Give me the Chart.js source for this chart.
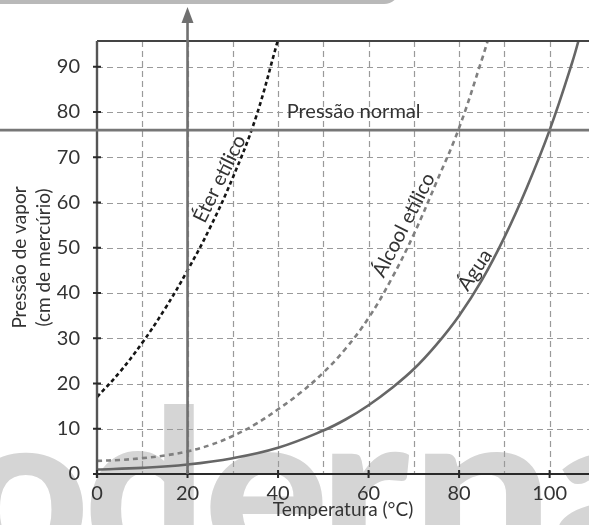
<!DOCTYPE html>
<html>
<head>
<meta charset="utf-8">
<script src="https://cdn.jsdelivr.net/npm/chart.js@4"></script>
<style>
  html, body { margin: 0; padding: 0; background: #fff; }
  canvas { display: block; }
</style>
</head>
<body>
<canvas id="grafico" width="589" height="525"></canvas>
<script>
// Pressão de vapor (cm de mercúrio) em função da temperatura (°C)
const eterTemp      = [0, 5, 10, 15, 20, 25, 30, 35, 40];
const eterPressao   = [17, 22.5, 29, 36.5, 45, 54.5, 65.5, 78.5, 96];

const alcoolTemp    = [0, 5, 10, 15, 20, 25, 30, 35, 40, 45, 50, 55, 60, 65, 70, 75, 80, 85, 87];
const alcoolPressao = [2.9, 3.1, 3.5, 4.1, 5.0, 6.4, 8.4, 11.0, 14.3, 18.0, 22.4, 27.8, 34.5, 43, 53, 64.5, 76.5, 91.5, 98];

const aguaTemp      = [0, 10, 20, 30, 40, 50, 55, 60, 65, 70, 75, 80, 85, 90, 95, 100, 105, 107];
const aguaPressao   = [1, 1.35, 2.1, 3.5, 5.8, 9.6, 12.1, 15.2, 18.9, 23.2, 28.6, 35, 42.8, 52.3, 63.4, 76, 91, 98];

const pressaoNormal = 76;      // cmHg
const temperaturaMarcada = 20; // °C

const xTicks = [0, 20, 40, 60, 80, 100];
const yTicks = [0, 10, 20, 30, 40, 50, 60, 70, 80, 90];
const xGrid  = [10, 20, 30, 40, 50, 60, 70, 80, 90, 100];
const yGrid  = [10, 20, 30, 40, 50, 60, 70, 80, 90];

// rótulos sobre as curvas: [texto, temperatura, pressão, ângulo em graus]
const rotulosCurvas = [
  ['Éter etílico', 27.1, 65.2, -64],
  ['Álcool etílico', 67.8, 55, -63],
  ['Água', 83.5, 45.1, -56]
];

const FONTE = 'Lato';
const TEXTO = '#333333';

function pontos(xs, ys) {
  return xs.map((x, i) => ({ x: x, y: ys[i] }));
}

// fundo, faixa superior e marca d'água
const fundo = {
  id: 'fundo',
  beforeDraw(chart) {
    const ctx = chart.ctx;
    ctx.save();
    ctx.fillStyle = '#ffffff';
    ctx.fillRect(0, 0, chart.width, chart.height);

    ctx.fillStyle = '#b9b9b9';
    ctx.beginPath();
    ctx.roundRect(-30, -40, 430, 44, 16);
    ctx.fill();

    ctx.fillStyle = '#d5d5d5';
    ctx.font = `900 100px ${FONTE}`;
    const xh = ctx.measureText('x').actualBoundingBoxAscent / 100;
    const asc = ctx.measureText('d').actualBoundingBoxAscent / 100;
    const tam = (453 - 406) / (asc - xh);
    const base = 453 + xh * tam;
    ctx.font = `900 ${tam}px ${FONTE}`;
    ctx.textAlign = 'left';
    ctx.textBaseline = 'alphabetic';
    const letras = [['o', -32, 83], ['d', 90, 194], ['e', 210, 323], ['r', 332, 410], ['n', 425, 541], ['a', 556, 662]];
    for (const [ch, esq, dir] of letras) {
      const m = ctx.measureText(ch);
      const w = m.actualBoundingBoxLeft + m.actualBoundingBoxRight;
      ctx.save();
      ctx.translate(esq, base);
      ctx.scale((dir - esq) / w, 1);
      ctx.fillText(ch, m.actualBoundingBoxLeft, 0);
      ctx.restore();
    }
    ctx.restore();
  }
};

// grade tracejada
const grade = {
  id: 'grade',
  beforeDatasetsDraw(chart) {
    const { ctx, chartArea: a, scales: { x, y } } = chart;
    ctx.save();
    ctx.strokeStyle = '#9a9a9a';
    ctx.lineWidth = 1.2;
    ctx.setLineDash([6, 4]);
    ctx.beginPath();
    for (const v of xGrid) {
      const px = Math.round(x.getPixelForValue(v)) + 0.5;
      ctx.moveTo(px, a.top);
      ctx.lineTo(px, a.bottom);
    }
    for (const v of yGrid) {
      const py = Math.round(y.getPixelForValue(v)) + 0.5;
      ctx.moveTo(a.left, py);
      ctx.lineTo(a.right, py);
    }
    ctx.stroke();
    ctx.restore();
  }
};

// eixos, linha de pressão normal, seta e rótulos
const anotacoes = {
  id: 'anotacoes',
  afterDatasetsDraw(chart) {
    const { ctx, chartArea: a, scales: { x, y } } = chart;
    ctx.save();
    ctx.setLineDash([]);

    // moldura
    ctx.strokeStyle = '#444';
    ctx.lineWidth = 2;
    ctx.beginPath();
    ctx.moveTo(a.left, a.top);
    ctx.lineTo(a.right, a.top);
    ctx.stroke();

    ctx.strokeStyle = '#555';
    ctx.lineWidth = 2.4;
    ctx.beginPath();
    ctx.moveTo(a.left, a.top);
    ctx.lineTo(a.left, a.bottom + 4);
    ctx.stroke();

    ctx.strokeStyle = '#2a2a2a';
    ctx.lineWidth = 2;
    ctx.beginPath();
    ctx.moveTo(a.left - 4, a.bottom);
    ctx.lineTo(a.right, a.bottom);
    ctx.stroke();

    // marcas dos eixos
    ctx.strokeStyle = '#2a2a2a';
    ctx.lineWidth = 2;
    ctx.beginPath();
    for (const v of xTicks) {
      const px = x.getPixelForValue(v);
      ctx.moveTo(px, a.bottom - 4);
      ctx.lineTo(px, a.bottom + 4);
    }
    for (const v of yTicks) {
      const py = y.getPixelForValue(v);
      ctx.moveTo(a.left - 4, py);
      ctx.lineTo(a.left + 4, py);
    }
    ctx.stroke();

    // pressão normal
    const py = y.getPixelForValue(pressaoNormal);
    ctx.strokeStyle = '#777';
    ctx.lineWidth = 2.6;
    ctx.beginPath();
    ctx.moveTo(0, py);
    ctx.lineTo(chart.width, py);
    ctx.stroke();

    ctx.fillStyle = TEXTO;
    ctx.font = `20px ${FONTE}`;
    ctx.textAlign = 'left';
    ctx.textBaseline = 'middle';
    ctx.fillText('Pressão normal', x.getPixelForValue(41.9), py - 19);

    // seta em 20 °C
    const px = x.getPixelForValue(temperaturaMarcada);
    ctx.strokeStyle = '#707070';
    ctx.fillStyle = '#707070';
    ctx.lineWidth = 2.6;
    ctx.beginPath();
    ctx.moveTo(px, y.getPixelForValue(0));
    ctx.lineTo(px, 20);
    ctx.stroke();
    ctx.beginPath();
    ctx.moveTo(px, 7);
    ctx.lineTo(px - 6, 23);
    ctx.lineTo(px + 6, 23);
    ctx.closePath();
    ctx.fill();

    // nomes das substâncias
    ctx.fillStyle = TEXTO;
    ctx.textAlign = 'center';
    for (const [txt, tx, ty, ang] of rotulosCurvas) {
      ctx.save();
      ctx.translate(x.getPixelForValue(tx), y.getPixelForValue(ty));
      ctx.rotate(ang * Math.PI / 180);
      ctx.fillText(txt, 0, 0);
      ctx.restore();
    }
    ctx.restore();
  }
};

new Chart(document.getElementById('grafico'), {
  type: 'line',
  data: {
    datasets: [
      {
        label: 'Éter etílico',
        data: pontos(eterTemp, eterPressao),
        borderColor: '#151515',
        borderWidth: 2.6,
        borderDash: [4, 3]
      },
      {
        label: 'Álcool etílico',
        data: pontos(alcoolTemp, alcoolPressao),
        borderColor: '#808080',
        borderWidth: 2.6,
        borderDash: [5, 4]
      },
      {
        label: 'Água',
        data: pontos(aguaTemp, aguaPressao),
        borderColor: '#666666',
        borderWidth: 2.6
      }
    ]
  },
  options: {
    responsive: false,
    animation: false,
    devicePixelRatio: 1,
    layout: { padding: { top: 41, left: 0, right: 0, bottom: 0 } },
    plugins: {
      legend: { display: false },
      tooltip: { enabled: false }
    },
    elements: {
      point: { radius: 0, hoverRadius: 0 },
      line: { cubicInterpolationMode: 'default', tension: 0.4, fill: false, borderCapStyle: 'butt' }
    },
    scales: {
      x: {
        type: 'linear',
        min: 0,
        max: 108.7,
        grid: { display: false },
        border: { display: false },
        ticks: {
          stepSize: 20,
          includeBounds: false,
          autoSkip: false,
          maxRotation: 0,
          padding: 0,
          color: TEXTO,
          font: { family: FONTE, size: 20 }
        },
        title: {
          display: true,
          text: 'Temperatura (°C)',
          color: TEXTO,
          font: { family: FONTE, size: 19, lineHeight: 1 },
          padding: { top: 0, bottom: 6 }
        },
        afterFit(s) { s.height = 51; s.paddingLeft = 0; s.paddingRight = 0; }
      },
      y: {
        min: 0,
        max: 95.7,
        grid: { display: false },
        border: { display: false },
        ticks: {
          stepSize: 10,
          includeBounds: false,
          padding: 9,
          color: TEXTO,
          font: { family: FONTE, size: 20 }
        },
        title: {
          display: true,
          text: ['Pressão de vapor', '(cm de mercúrio)'],
          color: TEXTO,
          font: { family: FONTE, size: 19, lineHeight: 1.26 },
          padding: { top: 8, bottom: 0 }
        },
        afterFit(s) { s.width = 97; s.paddingTop = 0; s.paddingBottom = 0; }
      }
    }
  },
  plugins: [fundo, grade, anotacoes]
});
</script>
</body>
</html>
